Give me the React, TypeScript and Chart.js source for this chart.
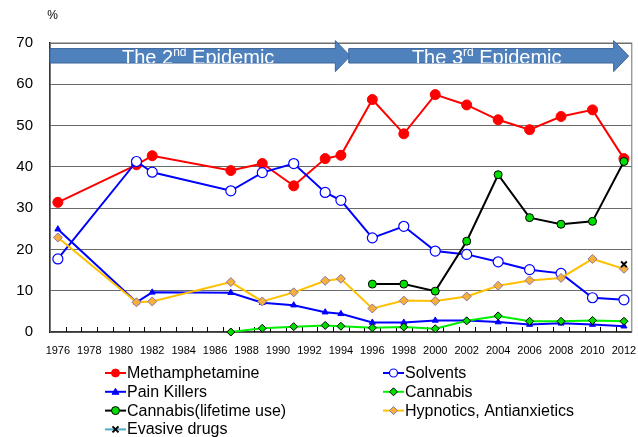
import React, { useEffect, useRef } from "react";
import { Chart, registerables } from "chart.js";

Chart.register(...registerables);

// ---- data ----
const surveyYears = [1976, 1981, 1982, 1987, 1989, 1991, 1993, 1994, 1996, 1998, 2000, 2002, 2004, 2006, 2008, 2010, 2012];
const methamphetamine = [31.4, 40.5, 42.7, 39.1, 40.8, 35.4, 42.0, 42.8, 56.3, 48.0, 57.5, 55.0, 51.4, 49.0, 52.2, 53.8, 42.0];
const solvents = [17.7, 41.3, 38.7, 34.2, 38.6, 40.8, 33.8, 31.9, 22.8, 25.6, 19.6, 18.8, 17.0, 15.1, 14.2, 8.3, 7.8];
const painKillers = [24.9, 7.2, 9.6, 9.5, 7.1, 6.5, 4.8, 4.4, 2.3, 2.3, 2.8, 2.8, 2.4, 1.8, 2.1, 1.8, 1.4];
const cannabis = [null, null, null, 0.0, 0.9, 1.3, 1.6, 1.4, 1.0, 1.2, 0.8, 2.7, 3.9, 2.6, 2.6, 2.8, 2.6];
const cannabisLifetime = [null, null, null, null, null, null, null, null, 11.6, 11.6, 9.9, 22.0, 38.1, 27.7, 26.1, 26.8, 41.3];
const hypnotics = [22.9, 7.2, 7.4, 12.1, 7.4, 9.6, 12.4, 12.9, 5.7, 7.6, 7.5, 8.6, 11.2, 12.5, 13.1, 17.7, 15.3];
const evasiveDrugs = [null, null, null, null, null, null, null, null, null, null, null, null, null, null, null, null, 16.4];

const seriesNames = [
  "Methamphetamine",
  "Solvents",
  "Pain Killers",
  "Cannabis",
  "Cannabis(lifetime use)",
  "Hypnotics, Antianxietics",
  "Evasive drugs",
];
const yTicks = [0, 10, 20, 30, 40, 50, 60, 70];
const xTickLabels = [1976, 1978, 1980, 1982, 1984, 1986, 1988, 1990, 1992, 1994, 1996, 1998, 2000, 2002, 2004, 2006, 2008, 2010, 2012];
const firstYear = 1976;
const lastYear = 2012;
const epidemics = [
  { ordinal: "2", sup: "nd", start: 1975.5, end: 1994.6 },
  { ordinal: "3", sup: "rd", start: 1994.5, end: 2012.3 },
];

const FONT = "'Liberation Sans', Arial, sans-serif";

function toPoints(values: (number | null)[]) {
  const pts: { x: number; y: number }[] = [];
  values.forEach((v, i) => {
    if (v !== null && v !== undefined) pts.push({ x: surveyYears[i], y: v });
  });
  return pts;
}

function drawMarker(ctx: CanvasRenderingContext2D, ds: any, x: number, y: number, r: number) {
  const style = ds.pointStyle;
  ctx.save();
  ctx.fillStyle = ds.pointBackgroundColor;
  ctx.strokeStyle = ds.pointBorderColor;
  ctx.lineWidth = ds.pointBorderWidth;
  ctx.beginPath();
  if (style === "circle") {
    ctx.arc(x, y, r, 0, Math.PI * 2);
    ctx.fill();
    ctx.stroke();
  } else if (style === "triangle") {
    ctx.moveTo(x, y - r);
    ctx.lineTo(x + r, y + r * 0.7);
    ctx.lineTo(x - r, y + r * 0.7);
    ctx.closePath();
    ctx.fill();
    ctx.stroke();
  } else if (style === "rectRot") {
    ctx.moveTo(x, y - r);
    ctx.lineTo(x + r, y);
    ctx.lineTo(x, y + r);
    ctx.lineTo(x - r, y);
    ctx.closePath();
    ctx.fill();
    ctx.stroke();
  } else if (style === "crossRot") {
    const d = r * 0.75;
    ctx.moveTo(x - d, y - d);
    ctx.lineTo(x + d, y + d);
    ctx.moveTo(x + d, y - d);
    ctx.lineTo(x - d, y + d);
    ctx.stroke();
  }
  ctx.restore();
}

const decorPlugin = {
  id: "decor",
  beforeDatasetsDraw(chart: any) {
    const { ctx, chartArea, scales } = chart;
    const xs = scales.x;
    ctx.save();
    ctx.strokeStyle = "#707070";
    ctx.lineWidth = 1;
    ctx.strokeRect(chartArea.left, chartArea.top, chartArea.right - chartArea.left, chartArea.bottom - chartArea.top);
    ctx.strokeStyle = "#000";
    ctx.lineWidth = 1;
    ctx.beginPath();
    for (let yr = firstYear; yr < lastYear; yr++) {
      const px = Math.round(xs.getPixelForValue(yr + 0.5)) + 0.5;
      ctx.moveTo(px, chartArea.bottom);
      ctx.lineTo(px, chartArea.bottom - 5);
    }
    ctx.stroke();
    ctx.restore();
  },
  afterDatasetsDraw(chart: any) {
    const { ctx, chartArea, scales } = chart;
    const xs = scales.x;
    const top = chartArea.top;
    ctx.save();
    epidemics.forEach((ep) => {
      const x0 = xs.getPixelForValue(ep.start);
      const tip = xs.getPixelForValue(ep.end);
      const base = tip - 15;
      const bodyTop = top + 5.6;
      const bodyBot = top + 20;
      const headTop = top - 2.4;
      const headBot = top + 28.6;
      const mid = (headTop + headBot) / 2;
      ctx.beginPath();
      ctx.moveTo(x0, bodyTop);
      ctx.lineTo(base, bodyTop);
      ctx.lineTo(base, headTop);
      ctx.lineTo(tip, mid);
      ctx.lineTo(base, headBot);
      ctx.lineTo(base, bodyBot);
      ctx.lineTo(x0, bodyBot);
      ctx.closePath();
      ctx.fillStyle = "#4F81BD";
      ctx.fill();
      ctx.strokeStyle = "#3A659A";
      ctx.lineWidth = 1;
      ctx.stroke();

      const bigFont = `20px ${FONT}`;
      const supFont = `12px ${FONT}`;
      const partA = "The " + ep.ordinal;
      const partC = " Epidemic";
      ctx.font = bigFont;
      const wA = ctx.measureText(partA).width;
      const wC = ctx.measureText(partC).width;
      ctx.font = supFont;
      const wB = ctx.measureText(ep.sup).width;
      const total = wA + wB + wC;
      const cx = (x0 + tip) / 2 - 2;
      let tx = cx - total / 2;
      const baseline = top + 20.5;
      ctx.save();
      ctx.beginPath();
      ctx.rect(x0, bodyTop, base - x0, bodyBot - bodyTop);
      ctx.clip();
      ctx.fillStyle = "#FFFFFF";
      ctx.textBaseline = "alphabetic";
      ctx.textAlign = "left";
      ctx.font = bigFont;
      ctx.fillText(partA, tx, baseline);
      tx += wA;
      ctx.font = supFont;
      ctx.fillText(ep.sup, tx, baseline - 8);
      tx += wB;
      ctx.font = bigFont;
      ctx.fillText(partC, tx, baseline);
      ctx.restore();
    });

    ctx.fillStyle = "#000";
    ctx.font = `12px ${FONT}`;
    ctx.textAlign = "center";
    ctx.textBaseline = "middle";
    ctx.fillText("%", chartArea.left + 2.5, 16);

    const datasets = chart.data.datasets;
    const colX = [105, 383];
    const rowY0 = 373;
    const rowH = 18.8;
    datasets.forEach((ds: any, i: number) => {
      const col = i % 2;
      const row = Math.floor(i / 2);
      const lx = colX[col];
      const ly = rowY0 + row * rowH;
      ctx.save();
      ctx.strokeStyle = ds.borderColor;
      ctx.lineWidth = 2;
      ctx.beginPath();
      ctx.moveTo(lx, ly);
      ctx.lineTo(lx + 21, ly);
      ctx.stroke();
      ctx.restore();
      drawMarker(ctx, ds, lx + 10.5, ly, Math.min(ds.pointRadius, 4));
      ctx.fillStyle = "#000";
      ctx.font = `16px ${FONT}`;
      ctx.textAlign = "left";
      ctx.textBaseline = "middle";
      ctx.fillText(ds.label, lx + 22, ly + 0.5);
    });
    ctx.restore();
  },
};

export default function App() {
  const canvasRef = useRef<HTMLCanvasElement | null>(null);

  useEffect(() => {
    if (!canvasRef.current) return;
    const mk = (
      idx: number,
      values: (number | null)[],
      lineColor: string,
      pointStyle: string,
      radius: number,
      bg: string,
      border: string,
      borderW: number
    ) => ({
      label: seriesNames[idx],
      data: toPoints(values),
      borderColor: lineColor,
      backgroundColor: lineColor,
      borderWidth: 2,
      pointStyle,
      pointRadius: radius,
      pointBackgroundColor: bg,
      pointBorderColor: border,
      pointBorderWidth: borderW,
      tension: 0,
      fill: false,
      clip: false,
      order: 10 - idx,
    });

    const chart = new Chart(canvasRef.current, {
      type: "line",
      data: {
        datasets: [
          mk(0, methamphetamine, "#FF0000", "circle", 5, "#FF0000", "#FF0000", 1),
          mk(1, solvents, "#0000FF", "circle", 5, "#FFFFFF", "#0000FF", 1.2),
          mk(2, painKillers, "#0000FF", "triangle", 3.5, "#0000FF", "#0000FF", 1),
          mk(3, cannabis, "#00EE00", "rectRot", 4, "#00DD00", "#000000", 1),
          mk(4, cannabisLifetime, "#000000", "circle", 4, "#00DD00", "#000000", 1),
          mk(5, hypnotics, "#FFC000", "rectRot", 4.5, "#F5B13A", "#8A72A8", 1),
          mk(6, evasiveDrugs, "#4BACC6", "crossRot", 4, "#000000", "#000000", 2),
        ] as any,
      },
      options: {
        animation: false,
        responsive: false,
        devicePixelRatio: 1,
        layout: { padding: { top: 43, right: 4, left: 0, bottom: 0 } },
        plugins: {
          legend: { display: false },
          tooltip: { enabled: false },
          title: { display: false },
        },
        scales: {
          x: {
            type: "linear",
            min: firstYear - 0.5,
            max: lastYear + 0.5,
            afterBuildTicks: (scale: any) => {
              scale.ticks = xTickLabels.map((v) => ({ value: v }));
            },
            afterFit: (scale: any) => {
              scale.height = 105;
              scale.paddingLeft = 0;
              scale.paddingRight = 0;
            },
            grid: { display: false, drawTicks: false },
            border: { display: true, color: "#000", width: 1.5 },
            ticks: {
              autoSkip: false,
              maxRotation: 0,
              padding: 12,
              color: "#000",
              font: { family: FONT, size: 11 },
              callback: (v: any) => String(v),
            },
          },
          y: {
            min: 0,
            max: 70,
            afterBuildTicks: (scale: any) => {
              scale.ticks = yTicks.map((v) => ({ value: v }));
            },
            afterFit: (scale: any) => {
              scale.width = 50;
              scale.paddingTop = 0;
              scale.paddingBottom = 0;
            },
            grid: { color: "#6A6A6A", lineWidth: 1, drawTicks: false },
            border: { display: true, color: "#000", width: 1.5 },
            ticks: {
              padding: 17,
              color: "#000",
              font: { family: FONT, size: 15 },
            },
          },
        },
      },
      plugins: [decorPlugin],
    } as any);
    return () => chart.destroy();
  }, []);

  return (
    <div style={{ position: "absolute", left: 0, top: 0, width: 638, height: 437, background: "#fff" }}>
      <canvas ref={canvasRef} width={638} height={437} style={{ width: 638, height: 437, display: "block" }} />
    </div>
  );
}
